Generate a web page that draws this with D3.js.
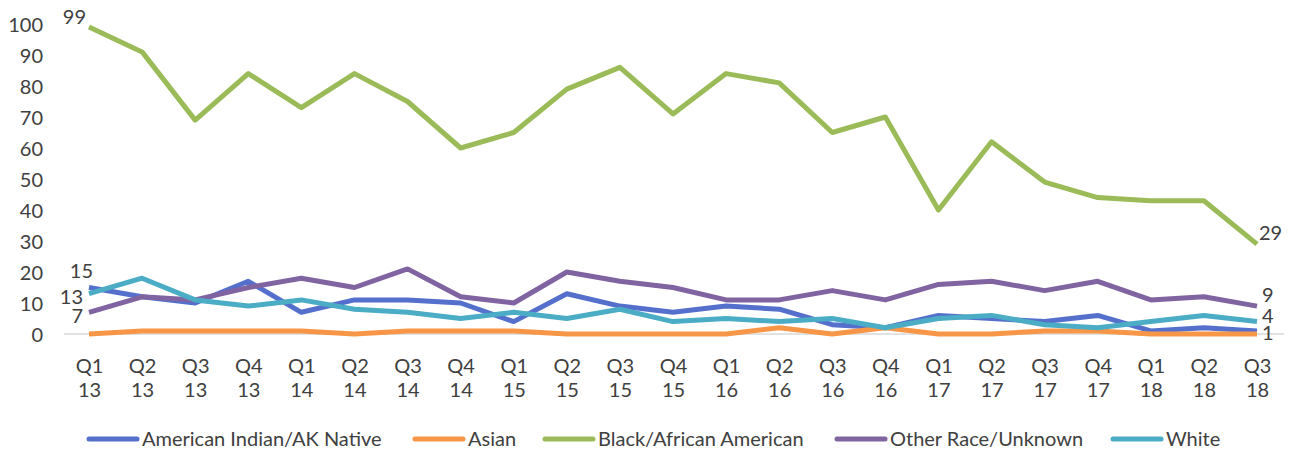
<!DOCTYPE html>
<html><head><meta charset="utf-8">
<script src="https://cdn.jsdelivr.net/npm/d3@7"></script>
<style>body{margin:0;background:#fff;} text{font-family:Lato,"Open Sans",sans-serif;}</style>
</head><body><svg id="c" width="1289" height="454"></svg>
<script>
const quarters = ["Q1","Q2","Q3","Q4","Q1","Q2","Q3","Q4","Q1","Q2","Q3","Q4","Q1","Q2","Q3","Q4","Q1","Q2","Q3","Q4","Q1","Q2","Q3"];
const years = ["13","13","13","13","14","14","14","14","15","15","15","15","16","16","16","16","17","17","17","17","18","18","18"];
const seriesNames = ["American Indian/AK Native","Asian","Black/African American","Other Race/Unknown","White"];
const americanIndian = [15,12,10,17,7,11,11,10,4,13,9,7,9,8,3,2,6,5,4,6,1,2,1];
const asian = [0,1,1,1,1,0,1,1,1,0,0,0,0,2,0,2,0,0,1,1,0,0,0];
const black = [99,91,69,84,73,84,75,60,65,79,86,71,84,81,65,70,40,62,49,44,43,43,29];
const otherRace = [7,12,11,15,18,15,21,12,10,20,17,15,11,11,14,11,16,17,14,17,11,12,9];
const white = [13,18,11,9,11,8,7,5,7,5,8,4,5,4,5,2,5,6,3,2,4,6,4];
const yTicks = [0,10,20,30,40,50,60,70,80,90,100];
const colors = ["#5470CC","#F79646","#9BBB59","#8064A2","#4BACC6"];
const allSeries = [americanIndian, asian, black, otherRace, white];

const FS = 20, TC = "#404040";
const svg = d3.select("#c");
const x = d3.scalePoint().domain(d3.range(quarters.length)).range([89,1257]);
const y = d3.scaleLinear().domain([0,100]).range([334,24]);

// baseline
svg.append("line").attr("x1",64).attr("x2",1284).attr("y1",y(0)).attr("y2",y(0))
  .attr("stroke","#d9d9d9").attr("stroke-width",1.3);

// y axis labels
const yAxis = d3.axisLeft(y).tickValues(yTicks).tickSize(0).tickPadding(0);
const gy = svg.append("g").attr("transform","translate(43,0)").call(yAxis);
gy.select(".domain").remove();
gy.selectAll("text").attr("font-size",FS).attr("fill",TC).attr("dy","0.36em").attr("font-family","Lato");

// x labels
const xAxis = d3.axisBottom(x).tickSize(0).tickFormat(() => "");
const gx = svg.append("g").attr("transform",`translate(0,${y(0)})`).call(xAxis);
gx.select(".domain").remove();
gx.selectAll(".tick").each(function(d){
  const t = d3.select(this);
  t.append("text").attr("y",39).attr("text-anchor","middle").attr("font-size",FS).attr("fill",TC).attr("font-family","Lato").text(quarters[d]);
  t.append("text").attr("y",63).attr("text-anchor","middle").attr("font-size",FS).attr("fill",TC).attr("font-family","Lato").text(years[d]);
});

const line = d3.line().x((d,i)=>x(i)).y(d=>y(d));
allSeries.forEach((s,k)=>{
  svg.append("path").datum(s).attr("d",line).attr("fill","none")
    .attr("stroke",colors[k]).attr("stroke-width",5).attr("stroke-linejoin","round");
});

// data labels
const last = quarters.length-1;
const lbl = (xx,yy,t,anchor)=>svg.append("text").attr("x",xx).attr("y",yy).attr("text-anchor",anchor)
  .attr("font-size",FS).attr("fill",TC).attr("font-family","Lato").text(t);
lbl(x(0)-3, y(black[0])-3, black[0], "end");
lbl(x(0)+4, y(americanIndian[0])-9.5, americanIndian[0], "end");
lbl(x(0)-6, y(white[0])+10, white[0], "end");
lbl(x(0)-6, y(otherRace[0])+11, otherRace[0], "end");
lbl(x(last)+2, y(black[last])-4, black[last], "start");
lbl(x(last)+5, y(otherRace[last])-4, otherRace[last], "start");
lbl(x(last)+5, y(white[last])+1.5, white[last], "start");
lbl(x(last)+5, y(americanIndian[last])+9, americanIndian[last], "start");

// legend
const legX = [87,413,543,835,1111];
const lg = svg.append("g");
seriesNames.forEach((n,k)=>{
  lg.append("line").attr("x1",legX[k]+2).attr("x2",legX[k]+50).attr("y1",439).attr("y2",439)
    .attr("stroke",colors[k]).attr("stroke-width",5).attr("stroke-linecap","round");
  lg.append("text").attr("x",legX[k]+55).attr("y",445.5).attr("font-size",FS).attr("fill",TC).attr("font-family","Lato").text(n);
});
</script></body></html>
